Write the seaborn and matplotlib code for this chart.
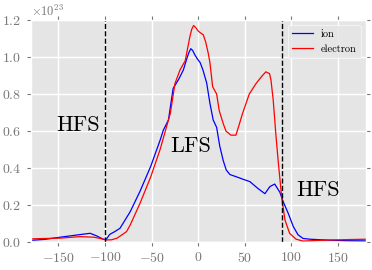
import pandas as pd
import matplotlib
matplotlib.use("Agg")
import matplotlib.pyplot as plt
import seaborn as sns

# angle (deg) and density (x 1e23)
ion_x = [-180, -165, -148, -130, -116, -109, -102, -99, -95, -90, -84, -73,
         -62.5, -51, -41, -37.5, -32, -27, -21, -16, -12.4, -10, -8, -6,
         -3.5, -1, 2, 5, 9, 12.5, 16, 19.7, 23, 26.8, 30, 34, 41, 48, 55.4,
         64, 71.5, 76.8, 82, 87.5, 91, 96.5, 102, 107, 112.5, 120, 140, 160,
         180]
ion_v = [0.010, 0.015, 0.027, 0.039, 0.048, 0.034, 0.016, 0.014, 0.042,
         0.056, 0.075, 0.165, 0.275, 0.41, 0.55, 0.605, 0.66, 0.83, 0.88,
         0.93, 0.99, 1.025, 1.045, 1.035, 1.01, 0.99, 0.97, 0.93, 0.86, 0.75,
         0.66, 0.62, 0.52, 0.44, 0.39, 0.365, 0.353, 0.34, 0.327, 0.29, 0.262,
         0.30, 0.314, 0.27, 0.22, 0.156, 0.084, 0.04, 0.02, 0.016, 0.011,
         0.008, 0.007]

el_x = [-180, -165, -148, -127, -112, -105, -99, -93, -87, -77, -73, -62.5,
        -51, -41, -32, -30, -25, -19.6, -14, -9, -7, -5, -3, 0, 2.5, 5.4, 8,
        10.7, 12.5, 15.4, 19.7, 22.5, 26.8, 29.7, 35, 40.4, 43, 47.5, 54.7,
        62, 68, 72.5, 76.5, 78, 80.4, 83.3, 85.7, 89.4, 93, 98, 105, 112.5,
        130, 160, 180]
el_v = [0.018, 0.020, 0.022, 0.030, 0.027, 0.020, 0.012, 0.013, 0.022, 0.057,
        0.093, 0.21, 0.353, 0.50, 0.66, 0.695, 0.857, 0.93, 0.98, 1.11, 1.15,
        1.17, 1.16, 1.14, 1.13, 1.12, 1.08, 1.02, 0.97, 0.84, 0.80, 0.71,
        0.64, 0.60, 0.578, 0.578, 0.62, 0.695, 0.80, 0.857, 0.895, 0.92, 0.91,
        0.875, 0.767, 0.578, 0.44, 0.246, 0.12, 0.048, 0.016, 0.006, 0.010,
        0.014, 0.016]

boundaries = [-100, 90]
regions = [("HFS", -129, 0.632), ("LFS", -8, 0.52), ("HFS", 129, 0.28)]

plt.style.use("ggplot")
plt.rcParams["font.family"] = "cmr10"
plt.rcParams["mathtext.fontset"] = "cm"
plt.rcParams["axes.formatter.use_mathtext"] = True

df = pd.concat([
    pd.DataFrame({"angle": ion_x, "n": [v * 1e23 for v in ion_v], "species": "ion"}),
    pd.DataFrame({"angle": el_x, "n": [v * 1e23 for v in el_v], "species": "electron"}),
])

fig = plt.figure(figsize=(3.72, 2.70), dpi=100)
ax = fig.add_axes([0.082, 0.103, 0.902, 0.823])

sns.lineplot(data=df, x="angle", y="n", hue="species", sort=False,
             palette={"ion": "#0000ff", "electron": "#ff0000"}, lw=0.9, ax=ax)

for b in boundaries:
    ax.axvline(b, color="k", ls="--", lw=1)
for txt, xx, yy in regions:
    ax.text(xx, yy * 1e23, txt, fontsize=16, ha="center", va="center")

ax.set_xlim(-180, 180)
ax.set_ylim(0, 1.2e23)
ax.set_xticks([-150, -100, -50, 0, 50, 100, 150])
ax.set_yticks([0, 0.2e23, 0.4e23, 0.6e23, 0.8e23, 1.0e23, 1.2e23])
ax.set_xlabel("")
ax.set_ylabel("")
ax.tick_params(top=True, right=True, direction="out", length=3,
               colors="#777777", labelsize=10, labelcolor="#777777")
ax.yaxis.get_offset_text().set_fontsize(9)
ax.yaxis.get_offset_text().set_color("#777777")
ax.grid(True, color="white", lw=1)
ax.set_facecolor("#e5e5e5")

leg = ax.legend(loc="upper right", fontsize=7.5, frameon=True, title=None)
leg.get_frame().set_facecolor("#e5e5e5")
leg.get_frame().set_edgecolor("white")

fig.savefig("out.png", dpi=100)
